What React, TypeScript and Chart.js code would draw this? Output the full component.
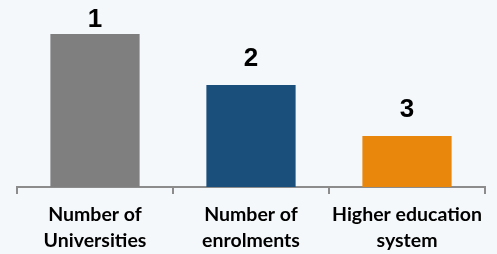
import React, { useEffect, useRef } from "react";
import { Chart, registerables } from "chart.js";

Chart.register(...registerables);

const categories: string[][] = [["Number of", "Universities"], ["Number of", "enrolments"], ["Higher education", "system"]];
const values: number[] = [3, 2, 1];
const rankLabels: string[] = ["1", "2", "3"];
const barColors: string[] = ["#7f7f7f", "#1b4f7b", "#e8870b"];

const BG = "#f5f8fa";

const rankPlugin = {
  id: "rankLabels",
  afterDatasetsDraw(chart: any) {
    const ctx = chart.ctx;
    const meta = chart.getDatasetMeta(0);
    ctx.save();
    ctx.font = "bold 26px 'Liberation Sans', Arial, sans-serif";
    ctx.fillStyle = "#000000";
    ctx.textAlign = "center";
    ctx.textBaseline = "alphabetic";
    meta.data.forEach((bar: any, i: number) => {
      // label sits 19px above the bar, clamped so it stays inside the canvas
      const y = Math.max(bar.y - 19, 27);
      ctx.fillText(rankLabels[i], bar.x, y);
    });
    ctx.restore();
  },
};

const bgPlugin = {
  id: "bg",
  beforeDraw(chart: any) {
    const ctx = chart.ctx;
    ctx.save();
    ctx.fillStyle = BG;
    ctx.fillRect(0, 0, chart.width, chart.height);
    ctx.restore();
  },
};

export default function App() {
  const ref = useRef<HTMLCanvasElement | null>(null);
  useEffect(() => {
    document.body.style.margin = "0";
    document.body.style.background = BG;
    const chart = new Chart(ref.current as HTMLCanvasElement, {
      type: "bar",
      data: {
        labels: categories,
        datasets: [
          {
            data: values,
            backgroundColor: barColors,
            barPercentage: 0.572,
            categoryPercentage: 1,
          },
        ],
      },
      options: {
        animation: false,
        responsive: false,
        maintainAspectRatio: false,
        layout: { padding: { left: 17, right: 12, top: 34, bottom: -8 } },
        plugins: { legend: { display: false }, tooltip: { enabled: false } },
        scales: {
          y: { display: false, min: 0, max: 3 },
          x: {
            grid: {
              display: true,
              drawOnChartArea: false,
              drawTicks: true,
              tickLength: 7,
              color: "#8c8c8c",
              lineWidth: 2,
              offset: true,
            },
            border: { display: true, color: "#8c8c8c", width: 2 },
            ticks: {
              color: "#000000",
              padding: 8,
              maxRotation: 0,
              autoSkip: false,
              font: { family: "Lato, 'Open Sans', sans-serif", weight: "bold", size: 19.5, lineHeight: 1.333 },
            },
          },
        },
      },
      plugins: [bgPlugin, rankPlugin],
    });
    return () => chart.destroy();
  }, []);
  return (
    <div style={{ width: 497, height: 254, background: BG }}>
      <canvas ref={ref} width={497} height={254} style={{ display: "block" }} />
    </div>
  );
}
